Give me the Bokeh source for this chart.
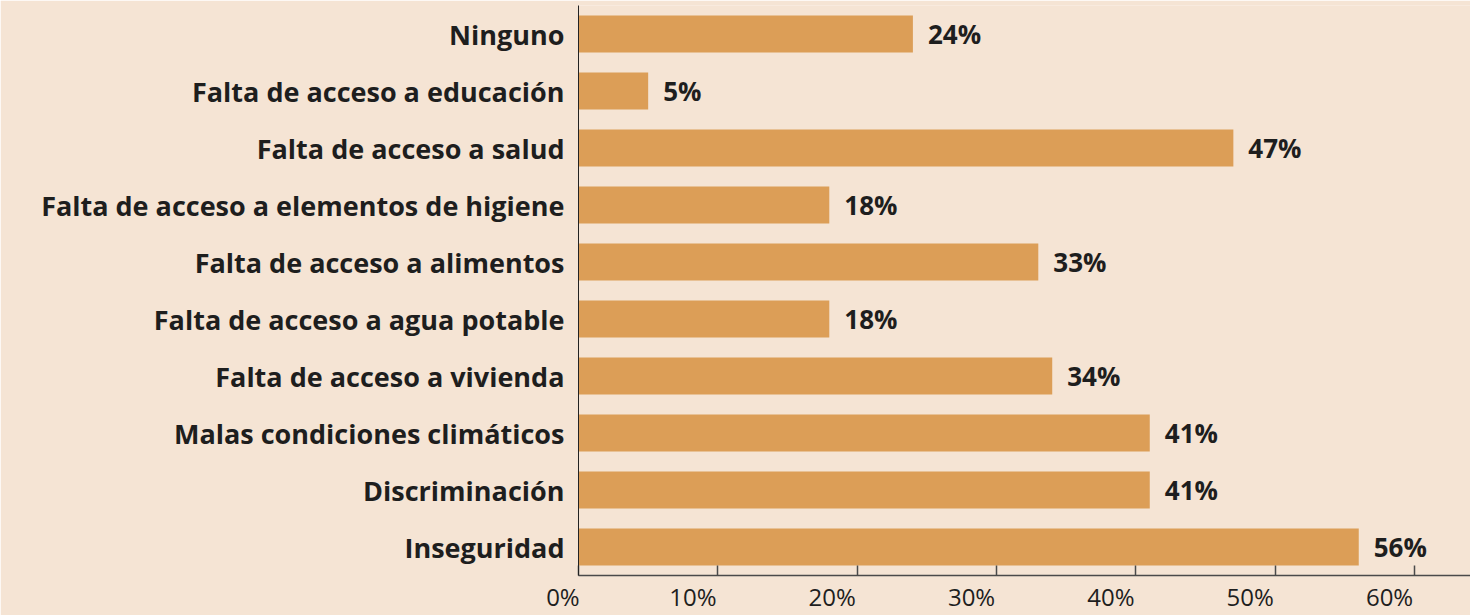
from bokeh.plotting import figure
from bokeh.models import ColumnDataSource, FixedTicker, Range1d
from bokeh.core.properties import value
from bokeh.embed import file_html
from bokeh.resources import INLINE

categories = [
    "Ninguno",
    "Falta de acceso a educación",
    "Falta de acceso a salud",
    "Falta de acceso a elementos de higiene",
    "Falta de acceso a alimentos",
    "Falta de acceso a agua potable",
    "Falta de acceso a vivienda",
    "Malas condiciones climáticos",
    "Discriminación",
    "Inseguridad",
]
values = [24, 5, 47, 18, 33, 18, 34, 41, 41, 56]
tick_values = [0, 10, 20, 30, 40, 50, 60]
tick_labels = ["0%", "10%", "20%", "30%", "40%", "50%", "60%"]

BG = "#F5E4D4"
BAR = "#DC9E57"
TXT = "#1E1E1E"
AX = "#4A4A4A"
FONT = "Open Sans"

X_END = 64.02


def right_aligned(label):
    # centred axis labels padded with no-break spaces so that the visible
    # text ends at its tick (digit 0.572em, % 0.83em, nbsp 0.26em)
    digits = sum(ch.isdigit() for ch in label)
    n = round((digits * 0.572 + 0.83) / 0.26)
    return label + "\u00a0" * n


labels = [f"{v}%" for v in values]
src = ColumnDataSource(dict(cat=categories, val=values, lab=labels))

p = figure(
    width=1470, height=615,
    y_range=list(reversed(categories)),
    x_range=Range1d(0, X_END),
    output_backend="svg", toolbar_location=None,
    background_fill_color=BG, border_fill_color=BG,
    min_border_left=578, min_border_right=0, min_border_top=5, min_border_bottom=40,
    outline_line_color=None,
)

p.hbar(y="cat", right="val", left=0, height=0.65, source=src,
       fill_color=BAR, line_color=None)
p.text(x="val", y="cat", text="lab", source=src, x_offset=15,
       text_baseline="middle", text_align="left",
       text_font=value(FONT), text_font_style="bold",
       text_font_size="26px", text_color=TXT)

p.grid.visible = False

xa = p.xaxis[0]
xa.ticker = FixedTicker(ticks=tick_values)
xa.major_label_overrides = {t: right_aligned(l) for t, l in zip(tick_values, tick_labels)}
xa.minor_tick_line_color = None
xa.major_tick_in = 10
xa.major_tick_out = 0
xa.major_tick_line_color = AX
xa.major_tick_line_width = 1.5
xa.axis_line_color = AX
xa.axis_line_width = 1.5
xa.major_label_text_font = FONT
xa.major_label_text_font_size = "24px"
xa.major_label_text_color = TXT
xa.major_label_standoff = 4

ya = p.yaxis[0]
ya.major_tick_line_color = None
ya.minor_tick_line_color = None
ya.major_tick_out = 0
ya.axis_line_color = "#222222"
ya.axis_line_width = 1
ya.major_label_text_font = FONT
ya.major_label_text_font_style = "bold"
ya.major_label_text_font_size = "27px"
ya.major_label_text_color = TXT
ya.major_label_standoff = 14

open("out.html", "w").write(file_html(p, INLINE))
